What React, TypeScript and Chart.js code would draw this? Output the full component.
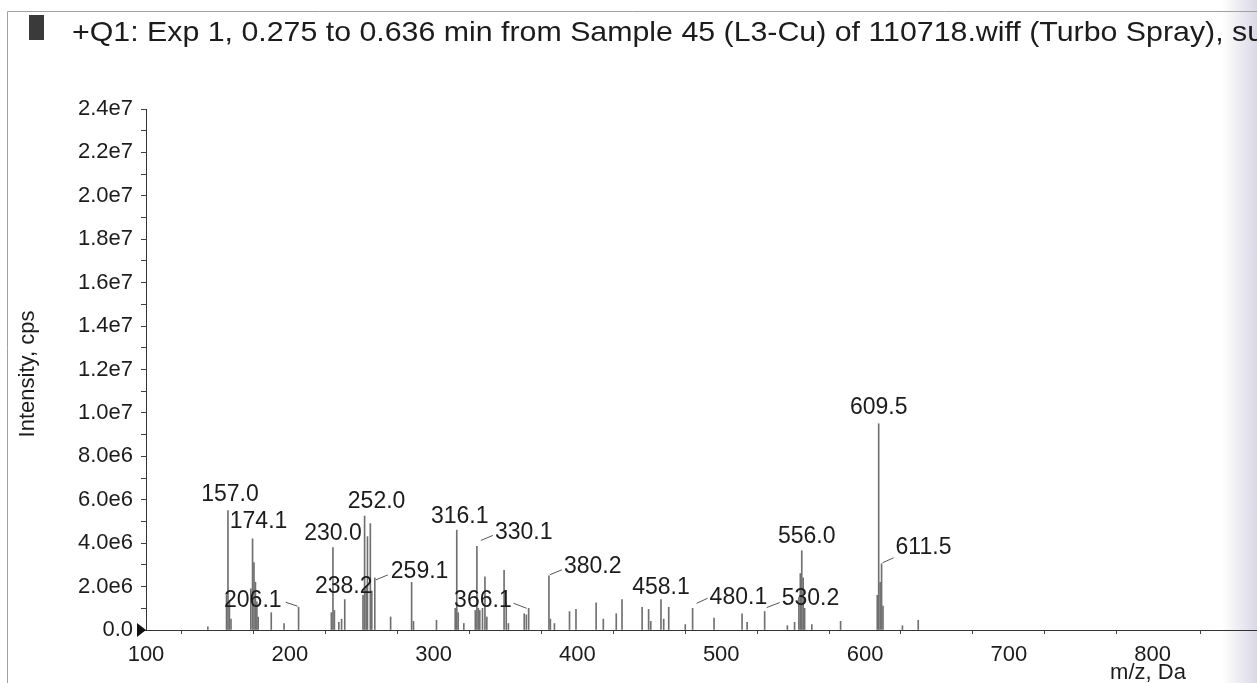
import React, { useEffect, useRef } from "react";
import { Chart, registerables } from "chart.js";

Chart.register(...registerables);

const TITLE =
  "+Q1: Exp 1, 0.275 to 0.636 min from Sample 45 (L3-Cu) of 110718.wiff (Turbo Spray), su";
const X_TITLE = "m/z, Da";
const Y_TITLE = "Intensity, cps";

const X_MIN = 100;
const X_MAX = 867;
const Y_MIN = 0;
const Y_MAX = 2.4e7;

// spectrum sticks: m/z and intensity (cps)
const peakMz = [
  143.0, 156.0, 157.0, 158.0, 159.1, 172.9, 174.1, 175.1, 176.1, 177.1, 178.0,
  187.1, 196.0, 206.1, 228.9, 230.0, 231.0, 234.1, 236.0, 238.2, 250.9, 252.0,
  253.1, 254.0, 256.0, 257.0, 259.1, 270.1, 284.7, 286.0, 302.0, 315.0, 316.1,
  317.1, 321.0, 329.0, 330.1, 331.1, 332.1, 334.0, 335.7, 337.0, 349.0, 350.5,
  352.0, 363.0, 364.5, 366.1, 380.2, 381.2, 384.0, 394.5, 399.0, 413.0, 418.0,
  427.0, 431.0, 445.0, 449.5, 451.0, 458.1, 460.0, 463.5, 475.0, 480.1, 495.0,
  514.5, 518.0, 530.2, 546.0, 551.0, 554.0, 555.0, 556.0, 557.0, 558.0, 563.0,
  583.0, 608.5, 609.5, 610.5, 611.5, 612.5, 626.0, 637.0,
];
const peakIntensity = [
  0.15e6, 1.6e6, 5.5e6, 1.3e6, 0.5e6, 1.9e6, 4.2e6, 3.1e6, 2.2e6, 1.3e6, 0.6e6,
  0.8e6, 0.3e6, 1.05e6, 0.8e6, 3.8e6, 0.9e6, 0.35e6, 0.5e6, 1.4e6, 1.6e6, 5.25e6,
  2.0e6, 4.3e6, 4.9e6, 1.8e6, 2.4e6, 0.6e6, 2.2e6, 0.4e6, 0.45e6, 1.0e6, 4.6e6,
  0.8e6, 0.3e6, 0.9e6, 3.85e6, 1.0e6, 0.9e6, 1.0e6, 2.45e6, 0.6e6, 2.75e6, 1.2e6,
  0.3e6, 0.75e6, 0.7e6, 1.0e6, 2.5e6, 0.5e6, 0.3e6, 0.85e6, 0.95e6, 1.25e6, 0.5e6,
  0.75e6, 1.4e6, 1.05e6, 0.95e6, 0.4e6, 1.4e6, 0.5e6, 1.05e6, 0.25e6, 1.0e6, 0.55e6,
  0.75e6, 0.35e6, 0.85e6, 0.2e6, 0.35e6, 1.5e6, 2.6e6, 3.65e6, 2.4e6, 1.0e6, 0.25e6,
  0.4e6, 1.6e6, 9.5e6, 2.2e6, 3.05e6, 1.1e6, 0.2e6, 0.45e6,
];

// annotated peaks
const labelMz = [
  157.0, 174.1, 206.1, 230.0, 238.2, 252.0, 259.1, 316.1, 330.1, 366.1, 380.2,
  458.1, 480.1, 530.2, 556.0, 609.5, 611.5,
];
const labelText = [
  "157.0", "174.1", "206.1", "230.0", "238.2", "252.0", "259.1", "316.1", "330.1",
  "366.1", "380.2", "458.1", "480.1", "530.2", "556.0", "609.5", "611.5",
];

// label placement (style): offset from the peak top, text alignment, leader line
type Place = { dx: number; dy: number; align: CanvasTextAlign; leader?: number[] };
const LABEL_PLACE: Place[] = [
  { dx: 2, dy: -16, align: "center" },
  { dx: 6, dy: -17, align: "center" },
  { dx: -17, dy: -7, align: "right", leader: [-1, -1, -13, -5] },
  { dx: 0, dy: -14, align: "center" },
  { dx: -1, dy: -13, align: "center" },
  { dx: 12, dy: -14, align: "center" },
  { dx: 16, dy: -6, align: "left", leader: [1, 2, 13, -3] },
  { dx: 3, dy: -13, align: "center" },
  { dx: 18, dy: -14, align: "left", leader: [4, -6, 16, -11] },
  { dx: -17, dy: -8, align: "right", leader: [-2, 0, -15, -5] },
  { dx: 15, dy: -9, align: "left", leader: [1, -1, 13, -6] },
  { dx: 0, dy: -12, align: "center" },
  { dx: 17, dy: -11, align: "left", leader: [4, -5, 15, -10] },
  { dx: 17, dy: -13, align: "left", leader: [2, -4, 15, -9] },
  { dx: 5, dy: -14, align: "center" },
  { dx: 0, dy: -16, align: "center" },
  { dx: 14, dy: -16, align: "left", leader: [1, -1, 12, -6] },
];

const FONT = "'Liberation Sans', Arial, Helvetica, sans-serif";
const INK = "#1c1c1c";

function fmtY(v: number): string {
  if (v === 0) return "0.0";
  return v.toExponential(1).replace("e+", "e");
}

const annotatePlugin = {
  id: "annotate",
  afterDraw(chart: any) {
    const { ctx, scales, chartArea } = chart;
    const xs = scales.x;
    const ys = scales.y;
    ctx.save();

    // page frame
    ctx.strokeStyle = "#a0a0a0";
    ctx.lineWidth = 1;
    ctx.beginPath();
    ctx.moveTo(7.5, 683);
    ctx.lineTo(7.5, 11.5);
    ctx.lineTo(1257, 11.5);
    ctx.stroke();

    // axis continues to the page edge
    const y0 = ys.getPixelForValue(0);
    ctx.strokeStyle = "#333";
    ctx.beginPath();
    ctx.moveTo(chartArea.right, Math.round(y0) + 0.5);
    ctx.lineTo(1257, Math.round(y0) + 0.5);
    ctx.stroke();

    // title marker
    ctx.fillStyle = "#3a3a3a";
    ctx.fillRect(29, 15, 15, 25);

    // title
    ctx.fillStyle = INK;
    ctx.font = `28px ${FONT}`;
    ctx.textAlign = "left";
    ctx.textBaseline = "alphabetic";
    const prefix = TITLE.slice(0, TITLE.length - 2);
    const w = ctx.measureText(prefix).width;
    const sx = (1232 - 72) / w;
    ctx.save();
    ctx.translate(72, 41);
    ctx.scale(sx, 1);
    ctx.fillText(TITLE, 0, 0);
    ctx.restore();

    // axis titles
    ctx.font = `22px ${FONT}`;
    ctx.textAlign = "center";
    ctx.textBaseline = "middle";
    ctx.save();
    ctx.translate(28, 374);
    ctx.rotate(-Math.PI / 2);
    ctx.fillText(Y_TITLE, 0, 0);
    ctx.restore();
    ctx.fillText(X_TITLE, 1148, 673);

    // origin marker
    const x0 = xs.getPixelForValue(X_MIN);
    ctx.fillStyle = "#111";
    ctx.beginPath();
    ctx.moveTo(x0 - 9, y0 - 7);
    ctx.lineTo(x0, y0);
    ctx.lineTo(x0 - 9, y0 + 7);
    ctx.closePath();
    ctx.fill();

    // peak labels
    ctx.font = `23px ${FONT}`;
    ctx.textBaseline = "middle";
    ctx.strokeStyle = "#555";
    ctx.lineWidth = 1;
    labelMz.forEach((mz, i) => {
      const k = peakMz.indexOf(mz);
      const inten = k >= 0 ? peakIntensity[k] : 0;
      const px = xs.getPixelForValue(mz);
      const py = ys.getPixelForValue(inten);
      const p = LABEL_PLACE[i];
      if (p.leader) {
        ctx.beginPath();
        ctx.moveTo(px + p.leader[0], py + p.leader[1]);
        ctx.lineTo(px + p.leader[2], py + p.leader[3]);
        ctx.stroke();
      }
      ctx.fillStyle = INK;
      ctx.textAlign = p.align;
      ctx.fillText(labelText[i], px + p.dx, py + p.dy);
    });
    ctx.restore();
  },
};

export default function App() {
  const ref = useRef<HTMLCanvasElement | null>(null);

  useEffect(() => {
    if (!ref.current) return;
    const data = peakMz.map((mz, i) => ({ x: mz, y: peakIntensity[i] }));
    const chart = new Chart(ref.current, {
      type: "bar",
      data: {
        datasets: [
          {
            data,
            backgroundColor: "#707070",
            borderWidth: 0,
            barThickness: 1,
          } as any,
        ],
      },
      plugins: [annotatePlugin],
      options: {
        animation: false,
        responsive: false,
        maintainAspectRatio: false,
        layout: { padding: { left: 0, right: 0, top: 109, bottom: 0 } },
        plugins: {
          legend: { display: false },
          tooltip: { enabled: false },
          title: { display: false },
        },
        scales: {
          x: {
            type: "linear",
            min: X_MIN,
            max: X_MAX,
            offset: false,
            border: { color: "#333", width: 1 },
            grid: { drawOnChartArea: false, drawTicks: true, tickLength: 4, color: "#444" },
            ticks: {
              stepSize: 50,
              autoSkip: false,
              maxRotation: 0,
              padding: 8,
              color: INK,
              font: { family: FONT, size: 22 },
              callback: (v: any) => (Number(v) % 100 === 0 ? String(v) : ""),
            },
            afterFit: (s: any) => {
              s.height = 53;
            },
          },
          y: {
            type: "linear",
            min: Y_MIN,
            max: Y_MAX,
            border: { color: "#333", width: 1 },
            grid: { drawOnChartArea: false, drawTicks: true, tickLength: 5, color: "#444" },
            ticks: {
              stepSize: 1e6,
              autoSkip: false,
              padding: 8,
              color: INK,
              font: { family: FONT, size: 22 },
              callback: (v: any) => (Math.round(Number(v) / 1e6) % 2 === 0 ? fmtY(Number(v)) : ""),
            },
            afterFit: (s: any) => {
              s.width = 146;
            },
          },
        },
      } as any,
    });
    return () => chart.destroy();
  }, []);

  return (
    <div
      style={{
        position: "absolute",
        left: 0,
        top: 0,
        width: 1257,
        height: 683,
        overflow: "hidden",
        background:
          "linear-gradient(to right, #ffffff 0px, #ffffff 1222px, #eeedf3 1238px, #dad8e6 1257px)",
      }}
    >
      <canvas ref={ref} width={1257} height={683} style={{ display: "block" }} />
    </div>
  );
}
